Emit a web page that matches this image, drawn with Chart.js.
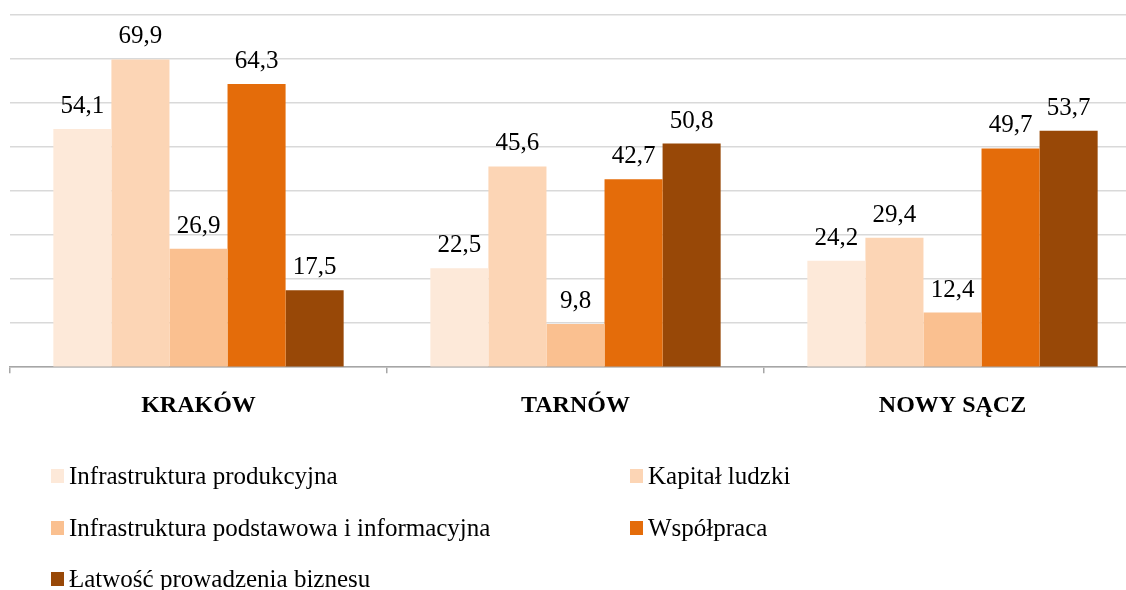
<!DOCTYPE html>
<html>
<head>
<meta charset="utf-8">
<script src="https://cdn.jsdelivr.net/npm/chart.js@4/dist/chart.umd.min.js"></script>
<style>
  html, body { margin: 0; padding: 0; background: #fff; overflow: hidden; }
  #wrap { position: absolute; left: 0; top: 0; width: 1145px; height: 590px; }
</style>
</head>
<body>
<div id="wrap"><canvas id="myChart" width="1145" height="590"></canvas></div>
<script>
// data
var cities = ['KRAKÓW', 'TARNÓW', 'NOWY SĄCZ'];
var seriesNames = [
  'Infrastruktura produkcyjna',
  'Kapitał ludzki',
  'Infrastruktura podstawowa i informacyjna',
  'Współpraca',
  'Łatwość prowadzenia biznesu'
];
var infraProd = [54.1, 22.5, 24.2];
var kapital = [69.9, 45.6, 29.4];
var infraPodst = [26.9, 9.8, 12.4];
var wspolpraca = [64.3, 42.7, 49.7];
var latwosc = [17.5, 50.8, 53.7];
var colors = ['#fde9d9', '#fcd5b5', '#fac090', '#e46c0a', '#984807'];
var yMin = 0, yMax = 80, yStep = 10;

var font = '"Liberation Serif", "Times New Roman", serif';
var allValues = [infraProd, kapital, infraPodst, wspolpraca, latwosc];

var valueLabels = {
  id: 'valueLabels',
  afterDatasetsDraw: function(chart) {
    var ctx = chart.ctx;
    ctx.save();
    ctx.font = '25px ' + font;
    ctx.fillStyle = '#000';
    ctx.textAlign = 'center';
    ctx.textBaseline = 'alphabetic';
    chart.data.datasets.forEach(function(ds, i) {
      chart.getDatasetMeta(i).data.forEach(function(bar, j) {
        var txt = ds.data[j].toFixed(1).replace('.', ',');
        ctx.fillText(txt, bar.x, bar.y - 16);
      });
    });
    ctx.restore();
  }
};

var bottomLegend = {
  id: 'bottomLegend',
  afterDraw: function(chart) {
    var ctx = chart.ctx;
    var colX = [51, 630];
    var rowY = [476, 528, 579];
    ctx.save();
    ctx.font = '25px ' + font;
    ctx.textBaseline = 'middle';
    ctx.textAlign = 'left';
    chart.data.datasets.forEach(function(ds, i) {
      var x = colX[i % 2];
      var y = rowY[Math.floor(i / 2)];
      ctx.fillStyle = ds.backgroundColor;
      ctx.fillRect(x, y - 7, 13, 14);
      ctx.fillStyle = '#000';
      ctx.fillText(ds.label, x + 18, y + 1);
    });
    ctx.restore();
  }
};

var ctx = document.getElementById('myChart').getContext('2d');
var myChart = new Chart(ctx, {
  type: 'bar',
  data: {
    labels: cities,
    datasets: allValues.map(function(vals, i) {
      return {
        label: seriesNames[i],
        data: vals,
        backgroundColor: colors[i],
        borderWidth: 0,
        categoryPercentage: 0.77,
        barPercentage: 1.0
      };
    })
  },
  options: {
    responsive: false,
    animation: false,
    layout: { padding: { left: 10, top: 15, right: 4, bottom: 152 } },
    plugins: {
      legend: { display: false },
      tooltip: { enabled: false }
    },
    scales: {
      x: {
        grid: { display: true, drawOnChartArea: false, drawTicks: true, tickLength: 6, color: '#a6a6a6', lineWidth: 1.5, offset: true },
        border: { color: '#a6a6a6', width: 1.5 },
        ticks: { font: { family: font, size: 24, weight: 'bold' }, color: '#000', padding: 18 }
      },
      y: {
        min: yMin,
        max: yMax,
        ticks: { display: false, stepSize: yStep },
        grid: { color: '#d9d9d9', lineWidth: 1.5, drawTicks: false },
        border: { display: false }
      }
    }
  },
  plugins: [valueLabels, bottomLegend]
});
</script>
</body>
</html>
